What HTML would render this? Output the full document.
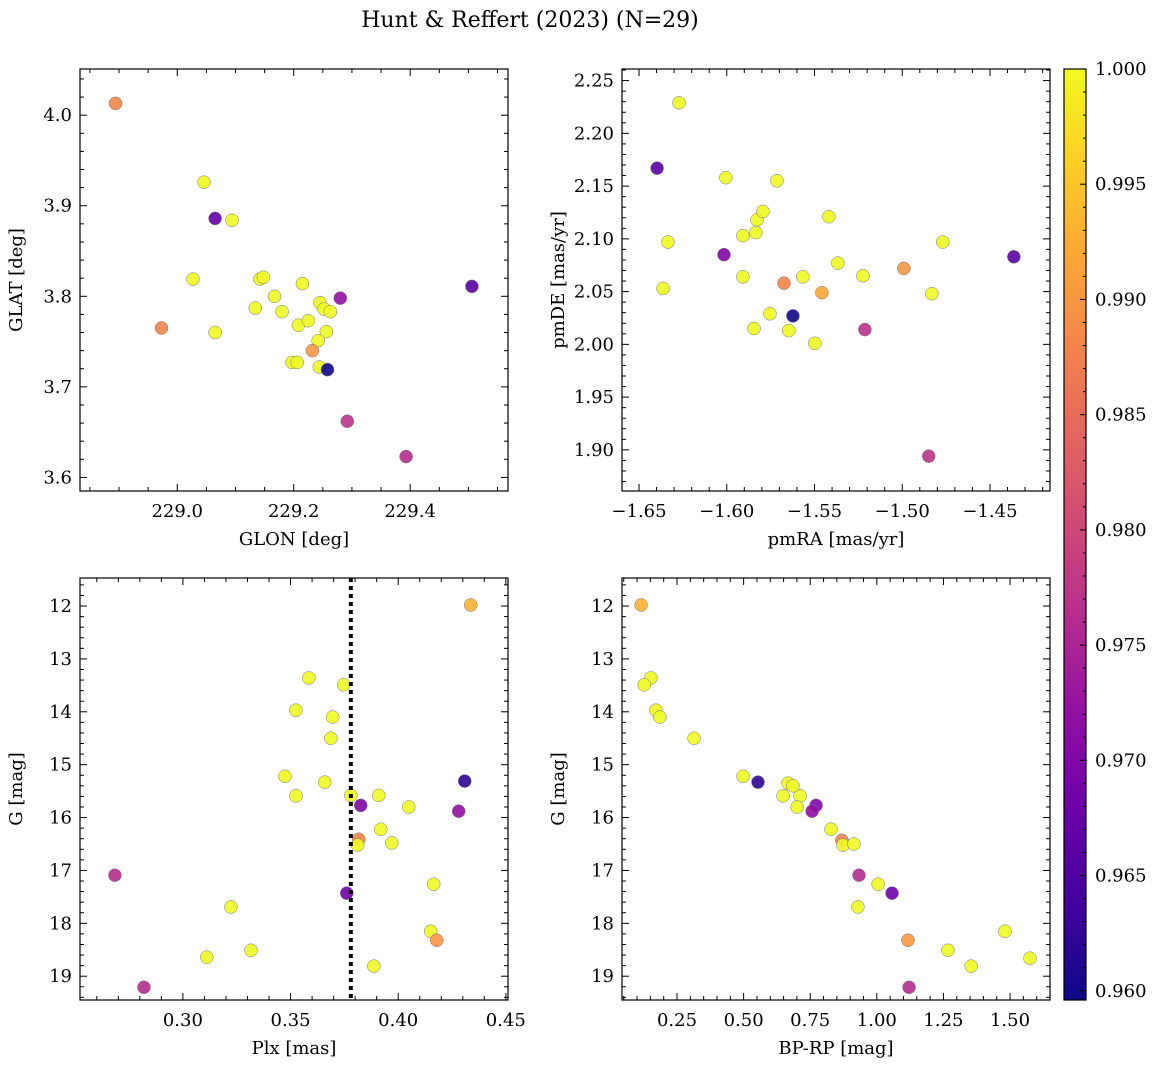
<!DOCTYPE html>
<html><head><meta charset="utf-8"><style>
body{margin:0;background:#fff}
svg text{font-family:"DejaVu Serif","Liberation Serif",serif;fill:#000}
</style></head><body>
<svg id="fig" width="1161" height="1068" xmlns="http://www.w3.org/2000/svg">
<text x="530" y="27" font-size="22" text-anchor="middle">Hunt &amp; Reffert (2023) (N=29)</text>
</svg>
<script>
// Panel 1: GLON / GLAT
const glon=[228.894,229.046,229.065,229.094,229.027,228.973,229.065,229.134,229.142,229.148,229.167,229.180,229.215,229.208,229.225,229.245,229.252,229.263,229.256,229.242,229.197,229.206,229.232,229.244,229.258,229.280,229.292,229.393,229.506];
const glat=[4.013,3.926,3.886,3.884,3.819,3.765,3.760,3.787,3.819,3.821,3.800,3.783,3.814,3.768,3.773,3.793,3.786,3.783,3.761,3.751,3.727,3.727,3.740,3.722,3.719,3.798,3.662,3.623,3.811];
const prob1=[0.988,1,0.967,1,1,0.988,1,1,1,1,1,1,1,1,1,1,1,1,1,1,1,1,0.99,1,0.96,0.972,0.977,0.976,0.966];
// Panel 2: pmRA / pmDE
const pmra=[-1.6272,-1.6397,-1.6005,-1.5714,-1.6335,-1.6363,-1.6016,-1.5908,-1.5828,-1.5794,-1.5834,-1.5908,-1.5674,-1.5566,-1.5418,-1.5367,-1.5458,-1.5754,-1.5845,-1.5646,-1.5623,-1.5498,-1.5224,-1.5213,-1.4991,-1.4769,-1.4831,-1.4364,-1.4849];
const pmde=[2.229,2.167,2.158,2.155,2.097,2.053,2.085,2.103,2.118,2.126,2.106,2.064,2.058,2.064,2.121,2.077,2.049,2.029,2.015,2.013,2.027,2.001,2.065,2.014,2.072,2.097,2.048,2.083,1.894];
const prob2=[1,0.966,1,1,1,1,0.97,1,1,1,1,1,0.988,1,1,1,0.992,1,1,1,0.96,1,1,0.977,0.99,1,1,0.966,0.977];
// Panel 3: Plx / G
const plx=[0.4337,0.3585,0.3747,0.3525,0.3696,0.3687,0.3474,0.3525,0.3659,0.378,0.391,0.4309,0.3826,0.4049,0.4281,0.3919,0.3817,0.3812,0.3970,0.2684,0.4165,0.3223,0.3761,0.4151,0.4179,0.3316,0.3111,0.3887,0.2819];
const gmag3=[11.98,13.36,13.49,13.97,14.10,14.50,15.22,15.59,15.33,15.58,15.58,15.31,15.77,15.80,15.88,16.22,16.41,16.52,16.48,17.09,17.26,17.69,17.43,18.15,18.32,18.51,18.64,18.81,19.21];
const prob3=[0.993,1,1,1,1,1,1,1,1,1,1,0.962,0.97,1,0.972,1,0.988,1,1,0.976,1,1,0.968,1,0.99,1,1,1,0.976];
const plxLine=[0.378];
// Panel 4: BP-RP / G
const bprp=[0.115,0.152,0.127,0.171,0.186,0.314,0.498,0.554,0.667,0.648,0.712,0.701,0.772,0.757,0.828,0.869,0.873,0.914,0.933,1.005,0.929,1.057,1.117,1.267,1.481,1.354,1.575,1.121,0.685];
const gmag4=[11.98,13.36,13.49,13.97,14.10,14.50,15.22,15.33,15.35,15.59,15.59,15.80,15.77,15.88,16.22,16.43,16.52,16.50,17.09,17.26,17.69,17.43,18.32,18.51,18.15,18.81,18.66,19.21,15.40];
const prob4=[0.993,1,1,1,1,1,1,0.962,1,1,1,1,0.97,0.972,1,0.988,1,1,0.976,1,1,0.968,0.99,1,1,1,1,0.976,1];
const cbarTicks=[0.960,0.965,0.970,0.975,0.980,0.985,0.990,0.995,1.000];

const NS="http://www.w3.org/2000/svg";
const svg=document.getElementById('fig');
function mk(tag,attrs,parent){const e=document.createElementNS(NS,tag);for(const k in attrs)e.setAttribute(k,attrs[k]);(parent||svg).appendChild(e);return e;}
const plasmaHex=['#0d0887','#41049d','#6a00a8','#8f0da4','#b12a90','#cc4778','#e16462','#f2844b','#fca636','#fcce25','#f0f921'];
const plasmaRGB=plasmaHex.map(h=>[parseInt(h.substr(1,2),16),parseInt(h.substr(3,2),16),parseInt(h.substr(5,2),16)]);
function plasmaC(t){t=Math.max(0,Math.min(1,t));const s=t*10;const i=Math.min(9,Math.floor(s));const f=s-i;const a=plasmaRGB[i],b=plasmaRGB[i+1];const c=a.map((v,j)=>Math.round(v+(b[j]-v)*f));return `rgb(${c[0]},${c[1]},${c[2]})`;}
const vmin=0.9596,vmax=1.0;
function fmt(v,d){return v.toFixed(d).replace('-','−');}
function panel(name,L,T,R,B,xr,yr,xmaj,xmin,ymaj,ymin,xd,yd,xlab,ylab,xs,ys,ps,invert){
  const g=mk('g',{});
  
  
  const X=v=>L+(v-xr[0])/(xr[1]-xr[0])*(R-L);
  const Y=invert?(v=>T+(v-yr[0])/(yr[1]-yr[0])*(B-T)):(v=>B-(v-yr[0])/(yr[1]-yr[0])*(B-T));
  const lo=Math.min(xr[0],xr[1]),hi=Math.max(xr[0],xr[1]);
  for(let k=Math.ceil(lo/xmin-1e-6);k*xmin<=hi+1e-9;k++){const v=k*xmin,x=X(v);const major=Math.abs(v/xmaj-Math.round(v/xmaj))<1e-4;const len=major?7:4;
    mk('line',{x1:x,y1:B,x2:x,y2:B-len,stroke:'#000','stroke-width':1},g);mk('line',{x1:x,y1:T,x2:x,y2:T+len,stroke:'#000','stroke-width':1},g);
    if(major){const t=mk('text',{x:x,y:B+26,'font-size':18,'text-anchor':'middle'},g);t.textContent=fmt(v,xd);}}
  const ylo=Math.min(yr[0],yr[1]),yhi=Math.max(yr[0],yr[1]);
  for(let k=Math.ceil(ylo/ymin-1e-6);k*ymin<=yhi+1e-9;k++){const v=k*ymin,y=Y(v);const major=Math.abs(v/ymaj-Math.round(v/ymaj))<1e-4;const len=major?7:4;
    mk('line',{x1:L,y1:y,x2:L+len,y2:y,stroke:'#000','stroke-width':1},g);mk('line',{x1:R,y1:y,x2:R-len,y2:y,stroke:'#000','stroke-width':1},g);
    if(major){const t=mk('text',{x:L-8,y:y+6,'font-size':18,'text-anchor':'end'},g);t.textContent=fmt(v,yd);}}
  for(let i=0;i<xs.length;i++){const c=mk('circle',{cx:X(xs[i]),cy:Y(ys[i]),r:6.5,fill:plasmaC((ps[i]-vmin)/(vmax-vmin)),stroke:'#777','stroke-width':0.5,'fill-opacity':0.9},g);
    
    }
  mk('rect',{x:L,y:T,width:R-L,height:B-T,fill:'none',stroke:'#000','stroke-width':1.2},g);
  const xl=mk('text',{x:(L+R)/2,y:B+54,'font-size':18,'text-anchor':'middle'},g);xl.textContent=xlab;
  
  const cx=L-58,cy=(T+B)/2;const yl=mk('text',{x:cx,y:cy,'font-size':18,'text-anchor':'middle',transform:`rotate(-90 ${cx} ${cy})`},g);yl.textContent=ylab;
  
  return {X,Y,g};
}
panel('glon-glat-panel',80,69,508,491,[228.833,229.568],[3.585,4.051],0.2,0.05,0.1,0.02,1,1,'GLON [deg]','GLAT [deg]',glon,glat,prob1,false);
panel('pm-panel',622,69,1050,491,[-1.6597,-1.4158],[1.861,2.261],0.05,0.01,0.05,0.01,2,2,'pmRA [mas/yr]','pmDE [mas/yr]',pmra,pmde,prob2,false);
const p3=panel('plx-g-panel',80,578,508,1000,[0.2522,0.4510],[11.47,19.45],0.05,0.01,1,0.2,2,0,'Plx [mas]','G [mag]',plx,gmag3,prob3,true);
const ln=mk('line',{x1:p3.X(plxLine[0]),y1:578,x2:p3.X(plxLine[0]),y2:1000,stroke:'#000','stroke-width':4,'stroke-dasharray':'4 4'},p3.g);


panel('color-magnitude-panel',622,578,1050,1000,[0.0435,1.650],[11.47,19.45],0.25,0.05,1,0.2,2,0,'BP-RP [mag]','G [mag]',bprp,gmag4,prob4,true);
// colorbar
const cb=mk('g',{});


const defs=mk('defs',{},cb);const lg=mk('linearGradient',{id:'pl',x1:0,y1:1,x2:0,y2:0},defs);
for(let i=0;i<=40;i++){mk('stop',{offset:i/40,'stop-color':plasmaC(i/40)},lg);}
mk('rect',{x:1064,y:69,width:22,height:931,fill:'url(#pl)',stroke:'#000','stroke-width':1.2},cb);
const CY=v=>1000-(v-vmin)/(vmax-vmin)*931;
for(let k=960;k<=1000;k++){const v=k/1000,y=CY(v);const major=k%5===0;
  mk('line',{x1:1086,y1:y,x2:1086-(major?6:3),y2:y,stroke:'#000','stroke-width':1},cb);}
cbarTicks.forEach(v=>{const t=mk('text',{x:1095,y:CY(v)+6,'font-size':18},cb);t.textContent=v.toFixed(3);
  
  });
</script>
</body></html>
